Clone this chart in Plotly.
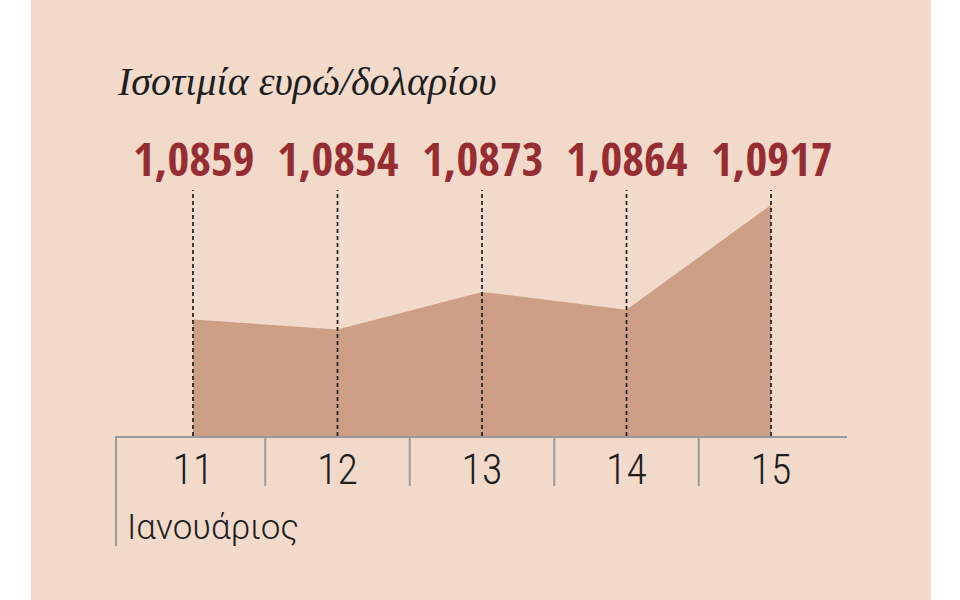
import plotly.graph_objects as go

# ---- data ----
days = [11, 12, 13, 14, 15]
rates = [1.0859, 1.0854, 1.0873, 1.0864, 1.0917]
tick_labels = ["11", "12", "13", "14", "15"]
title_text = "Ισοτιμία ευρώ/δολαρίου"
month_label = "Ιανουάριος"

# ---- style ----
PANEL = "#F2DACB"
AREA = "#CD9F86"
RED = "#962D33"
INK = "#1E1E1E"
GRID = "#9B9B9B"
COND_BOLD = "'Open Sans Condensed', 'Roboto Condensed', 'Open Sans', sans-serif"
COND_LIGHT = "'Roboto Condensed', 'Roboto', sans-serif"
LIGHT = "'Roboto', 'Open Sans', sans-serif"
SERIF = "'Liberation Serif', 'DejaVu Serif', serif"

W, H = 960, 600
ML, MR, MT, MB = 116, 113, 150, 164
plot_w = W - ML - MR
plot_h = H - MT - MB
Y0 = 1.08
px_per_unit = 19740.0
x_scale = 144.5

yrange = [Y0, Y0 + plot_h / px_per_unit]
xrange = [days[0] - 77 / x_scale, days[-1] + 76 / x_scale]
guide_top = Y0 + 246 / px_per_unit


def py(pixel_y):
    """pixel row -> paper y"""
    return (H - MB - pixel_y) / plot_h


def px(pixel_x):
    return (pixel_x - ML) / plot_w


fig = go.Figure()
fig.add_trace(go.Scatter(
    x=days, y=rates, mode="lines", fill="tozeroy",
    line=dict(width=0, color=AREA), fillcolor=AREA, hoverinfo="skip",
    showlegend=False,
))

shapes = []
# panel background
shapes.append(dict(type="rect", xref="paper", yref="paper",
                   x0=px(31), x1=px(931), y0=py(600), y1=py(0),
                   fillcolor=PANEL, line=dict(width=0), layer="below"))
# dashed guides
for d in days:
    shapes.append(dict(type="line", xref="x", yref="y", x0=d, x1=d,
                       y0=Y0, y1=guide_top, layer="above",
                       line=dict(color=INK, width=1.7, dash="4px,3px")))
# category separators
shapes.append(dict(type="line", xref="paper", yref="paper", x0=0, x1=0,
                   y0=0, y1=py(546), line=dict(color=GRID, width=2)))
for d in days[:-1]:
    shapes.append(dict(type="line", xref="x", yref="paper", x0=d + 0.5, x1=d + 0.5,
                       y0=0, y1=py(486), line=dict(color=GRID, width=2)))

annotations = []
annotations.append(dict(text=title_text, xref="paper", yref="paper",
                        x=px(115), y=py(81), xanchor="left", yanchor="middle",
                        showarrow=False,
                        font=dict(family=SERIF, size=40, color=INK, style="italic")))
for d, v in zip(days, rates):
    annotations.append(dict(text=f"{v:.4f}".replace(".", ","), xref="x", yref="paper",
                            x=d, y=py(158), xanchor="center", yanchor="middle",
                            showarrow=False,
                            font=dict(family=COND_BOLD, size=47, color=RED, weight="bold")))
annotations.append(dict(text=month_label, xref="paper", yref="paper",
                        x=px(125), y=py(527), xanchor="left", yanchor="middle",
                        showarrow=False,
                        font=dict(family=LIGHT, size=35, color=INK, weight=300)))

fig.update_layout(
    width=W, height=H,
    margin=dict(l=ML, r=MR, t=MT, b=MB, pad=0),
    paper_bgcolor="white", plot_bgcolor="rgba(0,0,0,0)",
    shapes=shapes, annotations=annotations,
    xaxis=dict(range=xrange, tickvals=days, ticktext=tick_labels,
               showgrid=False, zeroline=False, showline=True,
               linecolor=GRID, linewidth=2, ticks="",
               tickfont=dict(family=COND_LIGHT, size=42, color=INK, weight=300),
               ticklabelstandoff=-4, fixedrange=True),
    yaxis=dict(range=yrange, visible=False, showgrid=False, zeroline=False,
               fixedrange=True),
)

fig.write_html("out.html", config={"displayModeBar": False},
               post_script="document.body.style.margin='0';")
